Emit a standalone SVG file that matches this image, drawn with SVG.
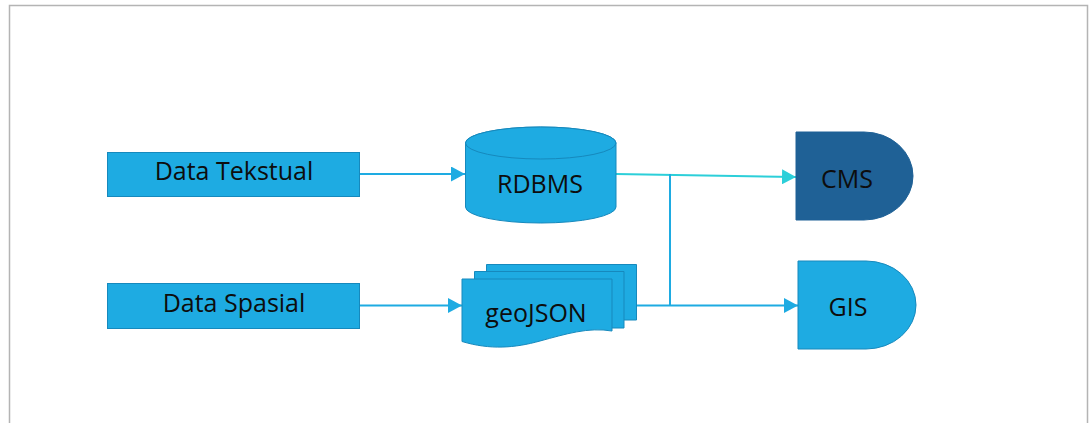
<svg xmlns="http://www.w3.org/2000/svg" width="1090" height="423" viewBox="0 0 1090 423">
  <style>
    .node { fill: #1eabe2; stroke: #1689bd; stroke-width: 1; }
    .dark { fill: #1f6196; stroke: #1f6196; stroke-width: 1; }
    .label { font-family: "Open Sans", "Liberation Sans", sans-serif; font-size: 25px; fill: #0d0d0d; text-anchor: middle; }
    .wire { fill: none; stroke: #1eabe2; stroke-width: 2; }
    .wire-cyan { fill: none; stroke: #2ccfd9; stroke-width: 2; }
  </style>
  <defs>
    <marker id="arrow" markerUnits="userSpaceOnUse" markerWidth="15" markerHeight="15" refX="14" refY="7.5" orient="auto">
      <path d="M0,0 L14,7.5 L0,15 Z" fill="#1eabe2"/>
    </marker>
    <marker id="arrow-cyan" markerUnits="userSpaceOnUse" markerWidth="15" markerHeight="15" refX="14" refY="7.5" orient="auto">
      <path d="M0,0 L14,7.5 L0,15 Z" fill="#2ccfd9"/>
    </marker>
  </defs>

  <!-- page frame -->
  <path d="M9.5,423 V5.5 H1087.5 V423" fill="none" stroke="#b4b4b4" stroke-width="1.5"/>

  <!-- connectors -->
  <g id="connectors">
    <path class="wire" d="M360,174 H465" marker-end="url(#arrow)"/>
    <path class="wire" d="M360,305.5 H462" marker-end="url(#arrow)"/>
    <path class="wire-cyan" d="M616,174 L796,177" marker-end="url(#arrow-cyan)"/>
    <path class="wire" d="M670,174 V305.5"/>
    <path class="wire" d="M636,305.5 H798" marker-end="url(#arrow)"/>
  </g>

  <g id="data-tekstual">
    <rect class="node" x="107.5" y="152.5" width="252" height="44"/>
    <text class="label" x="234" y="180">Data Tekstual</text>
  </g>

  <g id="data-spasial">
    <rect class="node" x="107.5" y="283.5" width="252" height="45"/>
    <text class="label" x="234" y="312">Data Spasial</text>
  </g>

  <g id="rdbms">
    <path class="node" d="M465.5,143 V207 A75.25,16 0 0 0 616,207 V143 A75.25,16 0 0 0 465.5,143 Z"/>
    <ellipse class="node" cx="540.75" cy="143" rx="75.25" ry="16"/>
    <text class="label" x="540" y="193">RDBMS</text>
  </g>

  <g id="geojson">
    <path class="node" d="M486.5,264.5 H636.5 V320 H486.5 Z"/>
    <path class="node" d="M474.5,271.5 H624 V328 H474.5 Z"/>
    <path class="node" d="M462,279 H612 V331 C588,327 566,334 540,341 C515,348 490,350 462,341.5 Z"/>
    <text class="label" x="536" y="322">geoJSON</text>
  </g>

  <g id="cms">
    <path class="dark" d="M796,132 H864 A49,44 0 0 1 864,220 H796 Z"/>
    <text class="label" x="847" y="188">CMS</text>
  </g>

  <g id="gis">
    <path class="node" d="M798,261 H866 A50,44 0 0 1 866,349 H798 Z"/>
    <text class="label" x="848" y="316">GIS</text>
  </g>
</svg>
